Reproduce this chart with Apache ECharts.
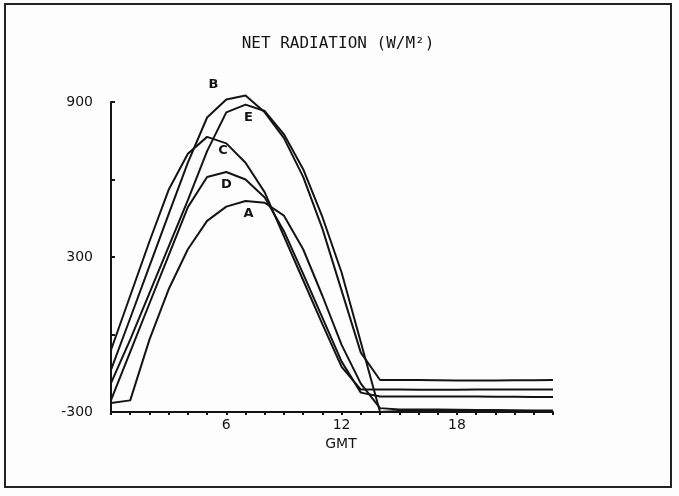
<!DOCTYPE html>
<html>
<head>
<meta charset="utf-8">
<script src="https://cdn.jsdelivr.net/npm/echarts@6/dist/echarts.min.js"></script>
<style>
  html, body { margin: 0; padding: 0; background: #fdfdfd; }
  #chart { width: 679px; height: 496px; }
</style>
</head>
<body>
<div id="chart"></div>
<script>
// Hours (GMT) of the hourly samples
const hours = [0,1,2,3,4,5,6,7,8,9,10,11,12,13,14,15,16,17,18,19,20,21,22,23];

// Net radiation (W/m²) for the five runs
const seriesA = [-265,-255,-20,175,330,440,495,517,510,460,330,150,-40,-190,-285,-290,-290,-290,-291,-292,-292,-293,-294,-294];
const seriesB = [-137,63,265,466,665,840,910,925,860,760,610,410,170,-70,-176,-176,-176,-177,-178,-178,-178,-177,-177,-176];
const seriesC = [-60,150,360,560,700,765,740,665,550,380,210,40,-125,-213,-213,-213,-214,-214,-214,-213,-213,-213,-213,-213];
const seriesD = [-254,-67,120,306,493,610,629,600,530,400,235,65,-105,-225,-240,-240,-240,-240,-240,-240,-241,-241,-242,-242];
const seriesE = [-188,-20,160,340,520,710,860,890,865,775,640,455,240,-30,-300,-296,-296,-296,-296,-296,-296,-296,-296,-296];

const names = ['A', 'B', 'C', 'D', 'E'];
const values = [seriesA, seriesB, seriesC, seriesD, seriesE];

// Tick labels shown on each axis
const xTickLabels = [6, 12, 18];
const yTickLabels = [-300, 300, 900];

// Where each curve's letter sits relative to its peak (pixels)
const peakLabelOffset = { A: [3, 13], B: [-32, -11], C: [16, 14], D: [0, 13], E: [3, 13] };

const ink = '#141414';
const font = 'DejaVu Sans';

const chart = echarts.init(document.getElementById('chart'));

const series = names.map((n, i) => {
  const vals = values[i];
  const peak = vals.indexOf(Math.max(...vals));
  return {
    name: n,
    type: 'line',
    symbol: 'circle',
    symbolSize: 0,
    showSymbol: true,
    clip: false,
    lineStyle: { color: ink, width: 2 },
    itemStyle: { color: ink },
    labelLayout: { hideOverlap: false, dx: peakLabelOffset[n][0], dy: peakLabelOffset[n][1] },
    data: hours.map((h, j) => j === peak ? {
      value: [h, vals[j]],
      label: {
        show: true,
        position: 'inside',
        formatter: n,
        color: ink,
        fontFamily: font,
        fontWeight: 'bold',
        fontSize: 13
      }
    } : [h, vals[j]])
  };
});

chart.setOption({
  animation: false,
  backgroundColor: '#fdfdfd',
  title: {
    text: 'NET RADIATION (W/M²)',
    left: 333,
    textAlign: 'center',
    top: 31,
    textStyle: { fontFamily: 'DejaVu Sans Mono', fontWeight: 'normal', fontSize: 16, color: ink }
  },
  grid: { left: 111, right: 126, top: 102, bottom: 84 },
  xAxis: {
    type: 'value',
    min: 0,
    max: 23,
    interval: 1,
    name: 'GMT',
    nameLocation: 'middle',
    nameGap: 20,
    nameTextStyle: { fontFamily: font, fontSize: 14, color: ink, padding: [0, 0, 0, 18] },
    axisLine: { show: true, onZero: false, lineStyle: { color: ink, width: 2 } },
    axisTick: { show: true, length: 3, lineStyle: { color: ink, width: 2 } },
    splitLine: { show: false },
    axisLabel: {
      color: ink, fontFamily: font, fontSize: 14, margin: 6,
      formatter: v => xTickLabels.includes(v) ? String(v) : ''
    }
  },
  yAxis: {
    type: 'value',
    min: -300,
    max: 900,
    interval: 300,
    axisLine: { show: true, onZero: false, lineStyle: { color: ink, width: 2 } },
    axisTick: { show: true, inside: true, length: 4, lineStyle: { color: ink, width: 2 } },
    splitLine: { show: false },
    axisLabel: {
      color: ink, fontFamily: font, fontSize: 14, margin: 18,
      formatter: v => yTickLabels.includes(v) ? String(v) : ''
    }
  },
  graphic: [{
    type: 'rect',
    shape: { x: 5, y: 4, width: 666, height: 483 },
    style: { fill: 'none', stroke: '#222', lineWidth: 2 },
    silent: true
  }],
  series: series
});
</script>
</body>
</html>
